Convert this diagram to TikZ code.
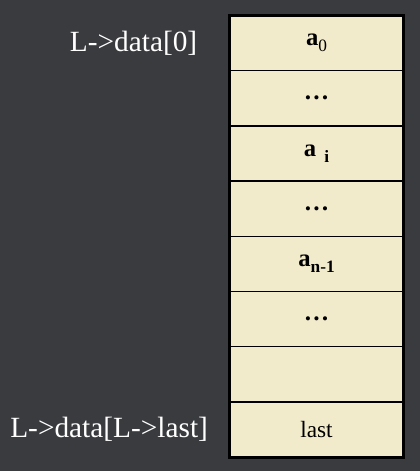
\documentclass[tikz,border=0pt]{standalone}
\usepackage{fontspec}
\setmainfont{Liberation Serif}
\usetikzlibrary{positioning}
\definecolor{bgdark}{RGB}{58,59,63}
\definecolor{cellfill}{RGB}{242,235,203}
% lowered index after a bold a
\newcommand{\idx}[1]{\raisebox{-4.5pt}{\fontsize{13}{13}\selectfont #1}}
\tikzset{
  cell/.style={draw=black, fill=cellfill, line width=1.1pt, outer sep=0pt, inner sep=0pt,
    minimum width=130.5pt, minimum height=41.4pt, font=\fontsize{18.5}{20}\selectfont\bfseries},
  ptr/.style={text=white, inner sep=0pt, font=\fontsize{22}{24}\selectfont}
}
\begin{document}
\begin{tikzpicture}[x=0.75pt,y=0.75pt,yscale=-1,xscale=1]
\useasboundingbox (0,0) rectangle (420,471);
\fill[bgdark] (0,0) rectangle (420,471);
%Cells of the array
\node[cell] (c1) at (316.5,43.1) {a\idx{\mdseries 0}};
\node[cell] (c2) at (316.5,98.3) {\fontsize{19}{20}\selectfont …};
\node[cell] (c3) at (316.5,153.5) {a\hspace{6pt}\idx{\bfseries i}};
\node[cell] (c4) at (316.5,208.7) {\fontsize{19}{20}\selectfont …};
\node[cell] (c5) at (316.5,263.9) {a\idx{\bfseries n-1}};
\node[cell] (c6) at (316.5,319.1) {\fontsize{19}{20}\selectfont …};
\node[cell] (c7) at (316.5,374.3) {};
\node[cell] (c8) at (316.5,429.5) {\mdseries\fontsize{17.5}{20}\selectfont last};
%Outer frame
\draw[line width=2.25pt] (c1.north west) rectangle (c8.south east);
% Pointer labels
\node[ptr, left=24pt of c1] (p0) {L->data[0]};
\node[ptr, left=16pt of c8] (plast) {L->data[L->last]};
\end{tikzpicture}
\end{document}
